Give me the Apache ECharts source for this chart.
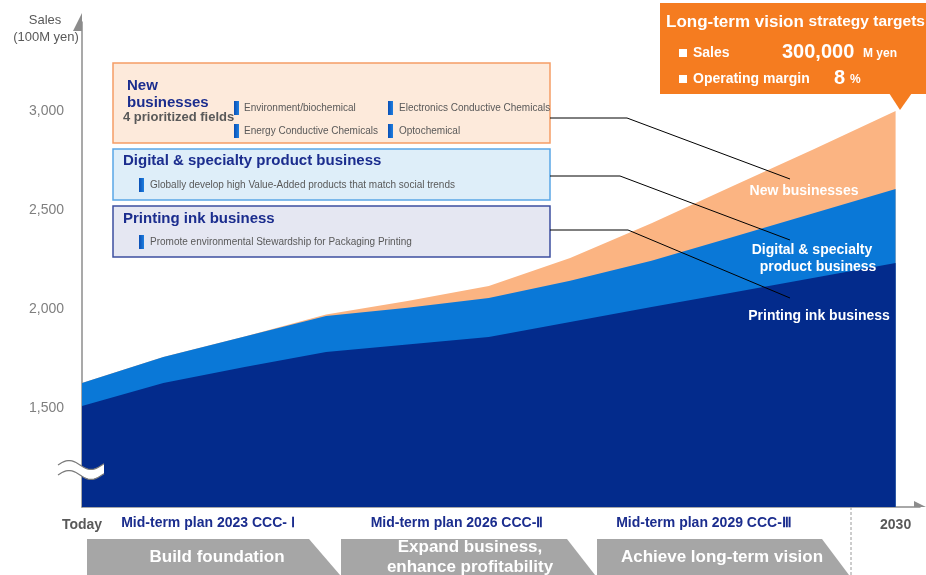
<!DOCTYPE html>
<html><head><meta charset="utf-8">
<script src="https://cdn.jsdelivr.net/npm/echarts/dist/echarts.min.js"></script>
<style>html,body{margin:0;padding:0;background:#fff}#c{width:926px;height:575px}</style>
</head><body><div id="c"></div>
<script>
// ---- data ----
const years = [2020, 2021, 2022, 2023, 2024, 2025, 2026, 2027, 2028, 2029, 2030];
const printingInk = [1510, 1626, 1707, 1783, 1821, 1859, 1934, 2010, 2083, 2158, 2232];
const digitalSpecialty = [116, 132, 154, 182, 186, 197, 209, 234, 281, 327, 374];
const newBusinesses = [0, 0, 0, 8, 33, 60, 115, 190, 257, 323, 394];
const seriesNames = ['Printing ink business', 'Digital & specialty product business', 'New businesses'];
const yTickLabels = [1500, 2000, 2500, 3000];
const xLabelYears = [2020, 2030];
const xLabelTexts = ['Today', '2030'];
const planNames = ['Mid-term plan 2023 CCC- \u2160', 'Mid-term plan 2026 CCC-\u2161', 'Mid-term plan 2029 CCC-\u2162'];
const phaseNames = ['Build foundation', 'Expand business,\nenhance profitability', 'Achieve long-term vision'];
const newFields = ['Environment/biochemical', 'Energy Conductive Chemicals', 'Electronics Conductive Chemicals', 'Optochemical'];

const F = '"Liberation Sans", Arial, Helvetica, sans-serif';
const FN = '"Liberation Sans Narrow", "Arial Narrow", "Liberation Sans", Arial, sans-serif';
const NAVY = '#1b2d8e';
const GRAY = '#595959';
const C_INK = '#032b8c', C_DIG = '#0a78d7', C_NEW = '#fbb482';

function T(text, x, y, size, color, o) {
  o = o || {};
  return {
    type: 'text', silent: true, z: o.z || 20,
    style: {
      text: text, x: x, y: y, fill: color, fontSize: size,
      fontWeight: o.weight || 'bold', fontFamily: o.family || F,
      textAlign: o.align || 'left', align: o.align || 'left',
      textVerticalAlign: 'middle', verticalAlign: 'middle',
      lineHeight: o.lh || Math.round(size * 1.2)
    }
  };
}
function R(x, y, w, h, fill, stroke, lw) {
  return { type: 'rect', silent: true, z: 10, shape: { x: x, y: y, width: w, height: h },
    style: { fill: fill, stroke: stroke || null, lineWidth: lw || 0 } };
}
function PL(points, color) {
  return { type: 'polyline', silent: true, z: 15, shape: { points: points },
    style: { stroke: color || '#000', lineWidth: 1, fill: null } };
}
function PG(points, fill, z) {
  return { type: 'polygon', silent: true, z: z || 10, shape: { points: points }, style: { fill: fill } };
}
function marker(x, y) {
  return { type: 'rect', silent: true, z: 12, shape: { x: x, y: y - 7, width: 5, height: 14 },
    style: { fill: new echarts.graphic.LinearGradient(0, 0, 1, 0, [{ offset: 0, color: '#0a4fb5' }, { offset: 1, color: '#1e7fe0' }]) } };
}

const g = [];
// y-axis title
g.push(T('Sales', 45, 20, 13, GRAY, { weight: 'normal', align: 'center' }));
g.push(T('(100M yen)', 46, 37, 13, GRAY, { weight: 'normal', align: 'center' }));

// axis break symbol (tilde-shaped white band)
(function () {
  const up = [], lo = [];
  for (let x = 58; x <= 104; x += 2) {
    const y = 465 - 4.5 * Math.sin(2 * Math.PI * (x - 58) / 44);
    up.push([x, y]); lo.unshift([x, y + 10]);
  }
  g.push({ type: 'polygon', silent: true, z: 30, shape: { points: up.concat(lo) },
    style: { fill: '#fff', stroke: null } });
  g.push({ type: 'polyline', silent: true, z: 31, shape: { points: up }, style: { stroke: '#7a7a7a', lineWidth: 1.2, fill: null } });
  g.push({ type: 'polyline', silent: true, z: 31, shape: { points: lo }, style: { stroke: '#7a7a7a', lineWidth: 1.2, fill: null } });
})();

// box 1: new businesses
g.push(R(113, 63, 437, 80, '#fdeadb', '#f59d66', 1.5));
g.push(T('New', 127, 86, 15, NAVY));
g.push(T('businesses', 127, 103, 15, NAVY));
g.push(T('4 prioritized fields', 123, 117, 13, GRAY));
g.push(marker(234, 108)); g.push(T(newFields[0], 244, 108, 10, GRAY, { weight: 'normal' }));
g.push(marker(234, 131)); g.push(T(newFields[1], 244, 131, 10, GRAY, { weight: 'normal' }));
g.push(marker(388, 108)); g.push(T(newFields[2], 399, 108, 10, GRAY, { weight: 'normal' }));
g.push(marker(388, 131)); g.push(T(newFields[3], 399, 131, 10, GRAY, { weight: 'normal' }));

// box 2: digital
g.push(R(113, 149, 437, 51, '#deeef9', '#5aa6e6', 1.5));
g.push(T('Digital & specialty product business', 123, 161, 15, NAVY));
g.push(marker(139, 185)); g.push(T('Globally develop high Value-Added products that match social trends', 150, 185, 10, GRAY, { weight: 'normal' }));

// box 3: printing ink
g.push(R(113, 206, 437, 51, '#e5e7f2', '#3d4fa0', 1.5));
g.push(T('Printing ink business', 123, 219, 15, NAVY));
g.push(marker(139, 242)); g.push(T('Promote environmental Stewardship for Packaging Printing', 150, 242, 10, GRAY, { weight: 'normal' }));

// leader lines
g.push(PL([[550, 118], [627, 118], [790, 179]]));
g.push(PL([[550, 176], [620, 176], [790, 240]]));
g.push(PL([[550, 230], [628, 230], [790, 298]]));

// series labels on areas
g.push(T(seriesNames[2], 804, 191, 14, '#fff', { align: 'center' }));
g.push(T('Digital & specialty', 812, 250, 14, '#fff', { align: 'center' }));
g.push(T('product business', 818, 267, 14, '#fff', { align: 'center' }));
g.push(T(seriesNames[0], 819, 316, 14, '#fff', { align: 'center' }));

// callout
g.push(R(660, 3, 266, 91, '#f57c20'));
g.push(PG([[889, 93], [912, 93], [900, 110]], '#f57c20'));
g.push({ type: 'text', silent: true, z: 20, style: {
  text: '{a|Long-term vision }{b|strategy targets}', x: 666, y: 22,
  textVerticalAlign: 'middle', verticalAlign: 'middle',
  rich: { a: { fontSize: 17, fontWeight: 'bold', fontFamily: F, fill: '#fff', color: '#fff' },
          b: { fontSize: 15.5, fontWeight: 'bold', fontFamily: F, fill: '#fff', color: '#fff' } } } });
g.push(R(679, 49, 8, 8, '#fff')); g.push(T('Sales', 693, 53, 14, '#fff'));
g.push(T('300,000', 782, 52, 20, '#fff')); g.push(T('M yen', 863, 54, 12, '#fff'));
g.push(R(679, 75, 8, 8, '#fff')); g.push(T('Operating margin', 693, 79, 14, '#fff'));
g.push(T('8', 834, 78, 20, '#fff')); g.push(T('%', 850, 80, 12, '#fff'));

// bottom: plan labels
const planX = [208, 457, 704];
planNames.forEach((p, i) => g.push(T(p, planX[i], 523, 14, NAVY, { align: 'center', family: FN })));
// phase banners
const banners = [
  [[87, 539], [309, 539], [340, 575], [87, 575]],
  [[341, 539], [567, 539], [595, 575], [341, 575]],
  [[597, 539], [822, 539], [849, 575], [597, 575]]
];
banners.forEach(b => g.push(PG(b, '#a6a6a6')));
const phaseX = [217, 470, 722];
phaseNames.forEach((p, i) => g.push(T(p, phaseX[i], 557, 17, '#fff', { align: 'center', family: FN, lh: 20 })));
g.push({ type: 'line', silent: true, z: 15, shape: { x1: 851, y1: 507, x2: 851, y2: 575 },
  style: { stroke: '#9a9a9a', lineWidth: 1, lineDash: [3, 2] } });

// cumulative tops of the stacked layers
const topInk = printingInk.slice();
const topDig = printingInk.map((v, i) => v + digitalSpecialty[i]);
const topNew = topDig.map((v, i) => v + newBusinesses[i]);

function mk(vals) { return years.map((y, i) => [y, vals[i]]); }
function areaSeries(name, vals, color, z) {
  return { name: name, type: 'line', data: mk(vals), showSymbol: false, symbol: 'none',
    lineStyle: { width: 0, color: color }, itemStyle: { color: color },
    areaStyle: { color: color, opacity: 1 }, emphasis: { disabled: true }, silent: true, z: z };
}

const halfArrow = 'path://M10,0 L10,20 L0,20 Z M20,20 L20,19.999 Z';
const chart = echarts.init(document.getElementById('c'), null, { renderer: 'canvas' });
chart.setOption({
  animation: false,
  backgroundColor: '#fff',
  grid: { left: 82, right: 6, top: 22, bottom: 68, containLabel: false },
  xAxis: {
    type: 'value', min: 2020, max: 2030.3, interval: 1,
    splitLine: { show: false }, axisTick: { show: false },
    axisLine: { show: true, lineStyle: { color: '#8c8c8c', width: 1.5 }, symbol: ['none', halfArrow], symbolSize: [20, 12] },
    axisLabel: { margin: 11, fontSize: 14, fontWeight: 'bold', color: GRAY, fontFamily: FN,
      formatter: v => { const k = xLabelYears.indexOf(Math.round(v * 1000) / 1000); return k >= 0 ? xLabelTexts[k] : ''; } }
  },
  yAxis: {
    type: 'value', min: 1000, max: 3450, interval: 500,
    splitLine: { show: false }, axisTick: { show: false },
    axisLine: { show: true, lineStyle: { color: '#8c8c8c', width: 1.5 }, symbol: ['none', halfArrow], symbolSize: [18, 20] },
    axisLabel: { margin: 18, fontSize: 14, color: '#7f7f7f', fontFamily: F,
      formatter: v => yTickLabels.indexOf(v) >= 0 ? v.toLocaleString('en-US') : '' }
  },
  series: [
    areaSeries(seriesNames[2], topNew, C_NEW, 2),
    areaSeries(seriesNames[1], topDig, C_DIG, 3),
    areaSeries(seriesNames[0], topInk, C_INK, 4)
  ],
  graphic: { elements: g }
});
</script></body></html>
